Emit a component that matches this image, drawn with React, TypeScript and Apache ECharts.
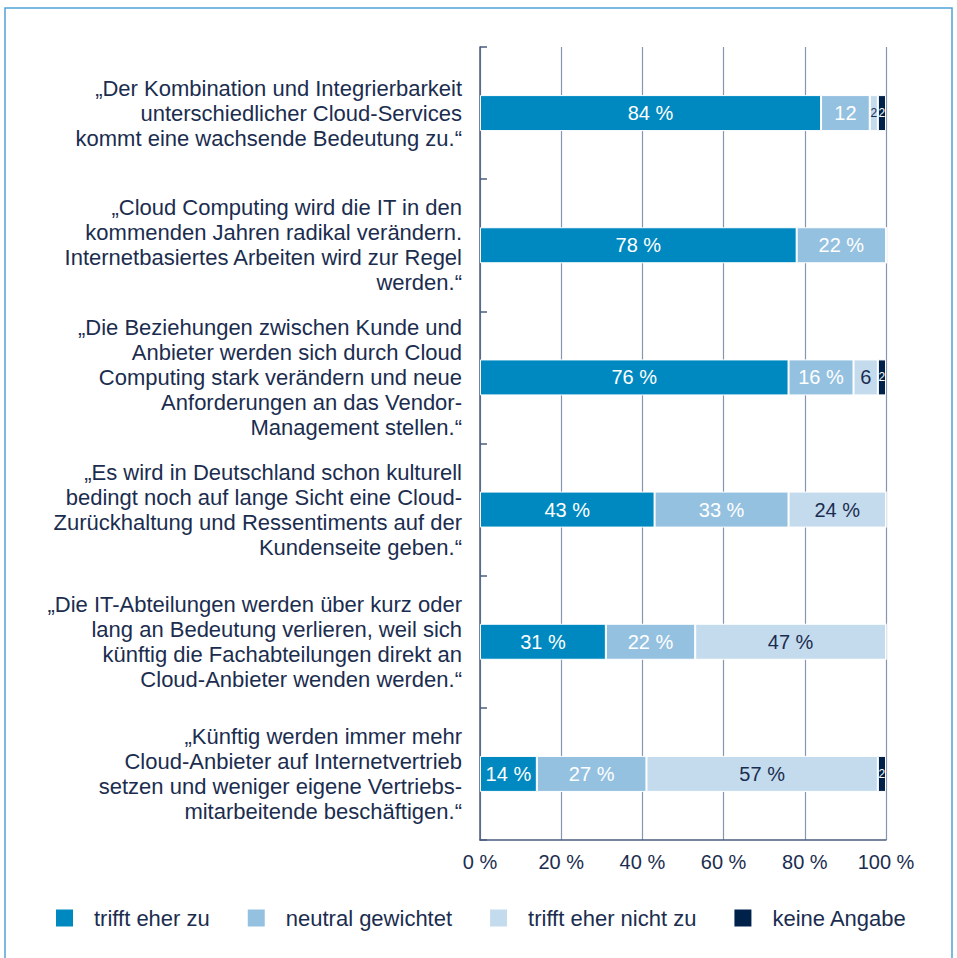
import React, { useEffect, useRef } from "react";
import * as echarts from "echarts";

const categories = [
  "„Der Kombination und Integrierbarkeit\nunterschiedlicher Cloud-Services\nkommt eine wachsende Bedeutung zu.“",
  "„Cloud Computing wird die IT in den\nkommenden Jahren radikal verändern.\nInternetbasiertes Arbeiten wird zur Regel\nwerden.“",
  "„Die Beziehungen zwischen Kunde und\nAnbieter werden sich durch Cloud\nComputing stark verändern und neue\nAnforderungen an das Vendor-\nManagement stellen.“",
  "„Es wird in Deutschland schon kulturell\nbedingt noch auf lange Sicht eine Cloud-\nZurückhaltung und Ressentiments auf der\nKundenseite geben.“",
  "„Die IT-Abteilungen werden über kurz oder\nlang an Bedeutung verlieren, weil sich\nkünftig die Fachabteilungen direkt an\nCloud-Anbieter wenden werden.“",
  "„Künftig werden immer mehr\nCloud-Anbieter auf Internetvertrieb\nsetzen und weniger eigene Vertriebs-\nmitarbeitende beschäftigen.“",
];

const seriesNames = ["trifft eher zu", "neutral gewichtet", "trifft eher nicht zu", "keine Angabe"];
const triffEherZu = [84, 78, 76, 43, 31, 14];
const neutral = [12, 22, 16, 33, 22, 27];
const eherNicht = [2, 0, 6, 24, 47, 57];
const keineAngabe = [2, 0, 2, 0, 0, 2];
const xTicks = [0, 20, 40, 60, 80, 100];

const colors = ["#0089c0", "#95c1e1", "#c4dbee", "#00214a"];
const labelColors = ["#ffffff", "#ffffff", "#1b2d4f", "#ffffff"];
const textColor = "#1b2d4f";
const font = "'Liberation Sans', Arial, sans-serif";

export default function App() {
  const ref = useRef<HTMLDivElement>(null);
  useEffect(() => {
    if (!ref.current) return;
    const chart = echarts.init(ref.current, null, { renderer: "svg" });
    const allData = [triffEherZu, neutral, eherNicht, keineAngabe];
    chart.setOption({
      animation: false,
      backgroundColor: "#ffffff",
      textStyle: { fontFamily: font },
      graphic: [
        {
          type: "rect",
          shape: { x: 5, y: 8, width: 947, height: 970 },
          style: { fill: "none", stroke: "#4fa3d6", lineWidth: 1.5 },
          silent: true,
        },
      ],
      legend: {
        left: 49,
        top: 902,
        itemWidth: 19,
        itemHeight: 19,
        itemGap: 36,
        icon: "rect",
        data: seriesNames,
        textStyle: { fontSize: 22, color: textColor, fontFamily: font, padding: [0, 0, 0, 15] },
      },
      grid: { left: 480, right: 71, top: 47, bottom: 118, containLabel: false },
      xAxis: {
        type: "value",
        min: 0,
        max: 100,
        interval: 20,
        axisLine: { show: true, lineStyle: { color: "#4a5d7e", width: 1.5 } },
        axisTick: { show: false },
        splitLine: { show: true, lineStyle: { color: "#8796b0", width: 1.2 } },
        axisLabel: {
          fontSize: 20,
          color: textColor,
          fontFamily: font,
          margin: 12,
          formatter: (v: number) => (xTicks.includes(v) ? `${v} %` : ""),
        },
      },
      yAxis: {
        type: "category",
        data: categories,
        inverse: true,
        axisLine: { show: true, lineStyle: { color: "#4a5d7e", width: 1.5 } },
        axisTick: { show: true, inside: true, length: 7, lineStyle: { color: "#4a5d7e", width: 1.5 } },
        axisLabel: {
          fontSize: 22,
          lineHeight: 25,
          color: textColor,
          fontFamily: font,
          margin: 18,
          align: "right",
        },
      },
      series: seriesNames.map((name, i) => ({
        name,
        type: "bar",
        stack: "total",
        barWidth: 36,
        data: allData[i].map((v) => ({
          value: v,
          label: v > 0 && v <= 3 ? { fontSize: 12 } : undefined,
        })),
        itemStyle: { color: colors[i], borderColor: "#ffffff", borderWidth: 1 },
        label: {
          show: true,
          position: "inside",
          fontSize: 20,
          fontFamily: font,
          color: labelColors[i],
          formatter: (p: any) => {
            const v = p.value as number;
            if (!v) return "";
            return v >= 14 ? `${v} %` : `${v}`;
          },
        },
      })),
    });
    return () => chart.dispose();
  }, []);
  return (
    <div
      ref={ref}
      style={{ position: "fixed", left: 0, top: 0, width: 957, height: 958 }}
    />
  );
}
